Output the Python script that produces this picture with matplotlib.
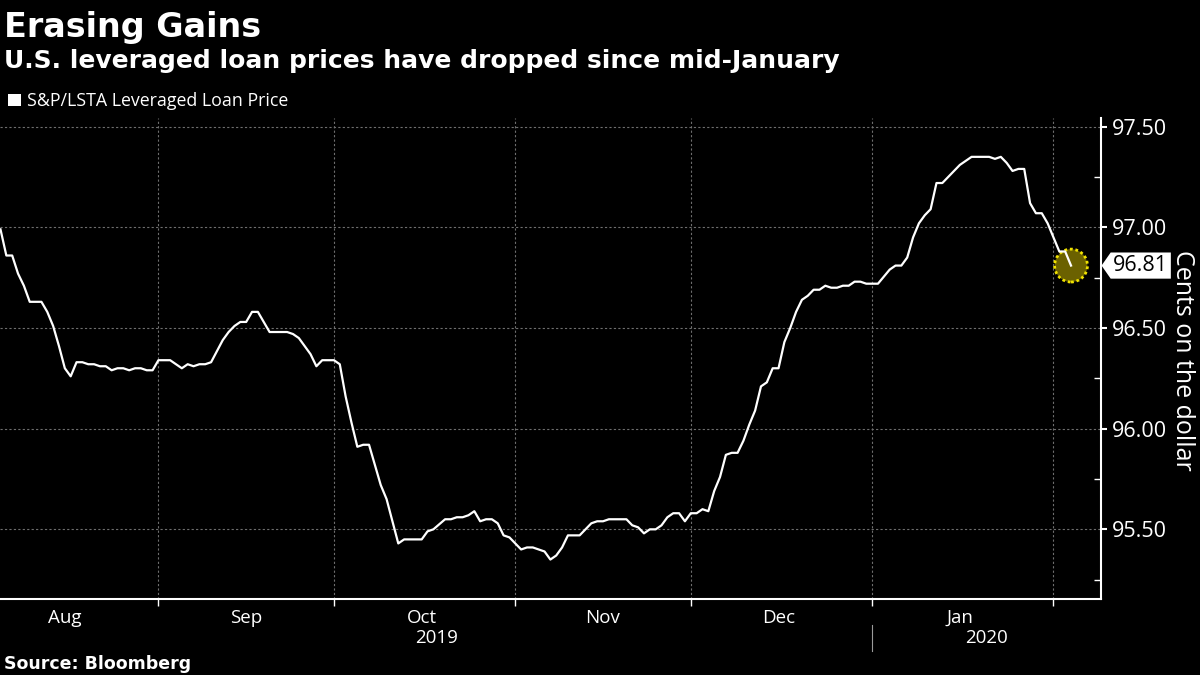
import matplotlib
matplotlib.use("Agg")
import matplotlib.pyplot as plt
import matplotlib.dates as mdates
import matplotlib.transforms as mtransforms
from matplotlib.patches import Patch
from matplotlib.path import Path
from matplotlib.ticker import MultipleLocator, FormatStrFormatter, NullFormatter
import pandas as pd

plt.rcParams["font.family"] = ["Open Sans", "DejaVu Sans"]

# S&P/LSTA leveraged loan price (cents on the dollar)
dates = [
    "2019-08-05", "2019-08-06", "2019-08-07", "2019-08-08", "2019-08-09", "2019-08-10",
    "2019-08-12", "2019-08-13", "2019-08-14", "2019-08-15", "2019-08-16", "2019-08-17",
    "2019-08-18", "2019-08-19", "2019-08-20", "2019-08-21", "2019-08-22", "2019-08-23",
    "2019-08-24", "2019-08-25", "2019-08-26", "2019-08-27", "2019-08-28", "2019-08-29",
    "2019-08-30", "2019-08-31", "2019-09-01", "2019-09-03", "2019-09-04", "2019-09-05",
    "2019-09-06", "2019-09-07", "2019-09-08", "2019-09-09", "2019-09-10", "2019-09-12",
    "2019-09-13", "2019-09-14", "2019-09-15", "2019-09-16", "2019-09-17", "2019-09-18",
    "2019-09-19", "2019-09-20", "2019-09-23", "2019-09-24", "2019-09-25", "2019-09-26",
    "2019-09-27", "2019-09-28", "2019-09-29", "2019-10-01", "2019-10-02", "2019-10-03",
    "2019-10-04", "2019-10-05", "2019-10-06", "2019-10-07", "2019-10-08", "2019-10-09",
    "2019-10-10", "2019-10-11", "2019-10-12", "2019-10-13", "2019-10-16", "2019-10-17",
    "2019-10-18", "2019-10-20", "2019-10-21", "2019-10-22", "2019-10-23", "2019-10-24",
    "2019-10-25", "2019-10-26", "2019-10-27", "2019-10-28", "2019-10-29", "2019-10-30",
    "2019-10-31", "2019-11-01", "2019-11-02", "2019-11-03", "2019-11-04", "2019-11-05",
    "2019-11-06", "2019-11-07", "2019-11-08", "2019-11-09", "2019-11-10", "2019-11-12",
    "2019-11-13", "2019-11-14", "2019-11-15", "2019-11-16", "2019-11-17", "2019-11-20",
    "2019-11-21", "2019-11-22", "2019-11-23", "2019-11-24", "2019-11-25", "2019-11-26",
    "2019-11-27", "2019-11-28", "2019-11-29", "2019-11-30", "2019-12-01", "2019-12-02",
    "2019-12-03", "2019-12-04", "2019-12-05", "2019-12-06", "2019-12-07", "2019-12-08",
    "2019-12-09", "2019-12-10", "2019-12-11", "2019-12-12", "2019-12-13", "2019-12-14",
    "2019-12-15", "2019-12-16", "2019-12-17", "2019-12-18", "2019-12-19", "2019-12-20",
    "2019-12-21", "2019-12-22", "2019-12-23", "2019-12-24", "2019-12-25", "2019-12-26",
    "2019-12-27", "2019-12-28", "2019-12-29", "2019-12-30", "2019-12-31", "2020-01-02",
    "2020-01-03", "2020-01-04", "2020-01-05", "2020-01-06", "2020-01-07", "2020-01-08",
    "2020-01-09", "2020-01-10", "2020-01-11", "2020-01-12", "2020-01-13", "2020-01-14",
    "2020-01-15", "2020-01-16", "2020-01-17", "2020-01-18", "2020-01-21", "2020-01-22",
    "2020-01-23", "2020-01-24", "2020-01-25", "2020-01-26", "2020-01-27", "2020-01-28",
    "2020-01-29", "2020-01-30", "2020-01-31", "2020-02-01", "2020-02-02", "2020-02-03",
    "2020-02-04",
]
prices = [
    96.99, 96.86, 96.86, 96.77, 96.71, 96.63,
    96.63, 96.58, 96.51, 96.41, 96.30, 96.26,
    96.33, 96.33, 96.32, 96.32, 96.31, 96.31,
    96.29, 96.30, 96.30, 96.29, 96.30, 96.30,
    96.29, 96.29, 96.34, 96.34, 96.32, 96.30,
    96.32, 96.31, 96.32, 96.32, 96.33, 96.44,
    96.48, 96.51, 96.53, 96.53, 96.58, 96.58,
    96.53, 96.48, 96.48, 96.47, 96.45, 96.41,
    96.37, 96.31, 96.34, 96.34, 96.32, 96.16,
    96.03, 95.91, 95.92, 95.92, 95.82, 95.72,
    95.65, 95.54, 95.43, 95.45, 95.45, 95.49,
    95.50, 95.55, 95.55, 95.56, 95.56, 95.57,
    95.59, 95.54, 95.55, 95.55, 95.53, 95.47,
    95.46, 95.43, 95.40, 95.41, 95.41, 95.40,
    95.39, 95.35, 95.37, 95.41, 95.47, 95.47,
    95.50, 95.53, 95.54, 95.54, 95.55, 95.55,
    95.52, 95.51, 95.48, 95.50, 95.50, 95.52,
    95.56, 95.58, 95.58, 95.54, 95.58, 95.58,
    95.60, 95.59, 95.69, 95.76, 95.87, 95.88,
    95.88, 95.94, 96.02, 96.09, 96.21, 96.23,
    96.30, 96.30, 96.43, 96.50, 96.58, 96.64,
    96.66, 96.69, 96.69, 96.71, 96.70, 96.70,
    96.71, 96.71, 96.73, 96.73, 96.72, 96.72,
    96.755, 96.79, 96.81, 96.81, 96.85, 96.95,
    97.02, 97.06, 97.09, 97.22, 97.22, 97.25,
    97.28, 97.31, 97.33, 97.35, 97.35, 97.34,
    97.35, 97.32, 97.28, 97.29, 97.29, 97.12,
    97.07, 97.07, 97.02, 96.95, 96.88, 96.88,
    96.81,
]
y_ticks = [95.50, 96.00, 96.50, 97.00, 97.50]
year_labels = ["2019", "2020"]

x = pd.to_datetime(dates)
last_x, last_y = x[-1], prices[-1]
x_start = pd.Timestamp("2019-08-04 22:00")
x_end = pd.Timestamp("2020-02-09 02:00")
year_break = pd.Timestamp("2020-01-01")

fig = plt.figure(figsize=(12, 6.75), dpi=100, facecolor="black")
ax = fig.add_axes([0, 0.1126, 0.9173, 0.7126], facecolor="black")

ax.plot(x, prices, color="white", lw=1.6, zorder=3, solid_joinstyle="round")
ax.scatter([last_x], [last_y], s=560, facecolor="#6b6100", edgecolor="#f0e200",
           linestyle=(0, (1, 1)), linewidth=2, zorder=2, clip_on=False)

ax.set_xlim(x_start, x_end)
ax.set_ylim(95.154, 97.543)

# y axis on the right
ax.yaxis.tick_right()
ax.set_yticks(y_ticks)
ax.yaxis.set_minor_locator(MultipleLocator(0.25))
ax.yaxis.set_major_formatter(FormatStrFormatter("%.2f"))
ax.tick_params(axis="y", which="major", direction="out", length=4, width=1.5,
               colors="white", labelsize=15.5, pad=4)
ax.tick_params(axis="y", which="minor", direction="in", length=5, width=1, color="white")

# x axis: ticks at month starts, labels mid-month
ax.xaxis.set_major_locator(mdates.MonthLocator())
ax.xaxis.set_major_formatter(NullFormatter())
ax.xaxis.set_minor_locator(mdates.MonthLocator(bymonthday=16))
ax.xaxis.set_minor_formatter(mdates.DateFormatter("%b"))
ax.tick_params(axis="x", which="major", direction="out", length=5, width=1, color="white")
ax.tick_params(axis="x", which="minor", length=0, labelsize=13.5, labelcolor="white", pad=7)

ax.grid(True, which="major", axis="both", color="#6e6e6e", linestyle=(0, (2, 2)), lw=0.8)
ax.set_axisbelow(True)

for side in ["top", "left"]:
    ax.spines[side].set_visible(False)
for side in ["right", "bottom"]:
    ax.spines[side].set_color("white")
    ax.spines[side].set_linewidth(1.5)

# year labels under the months
trans = mtransforms.blended_transform_factory(ax.transData, ax.transAxes)
ax.text(x_start + (year_break - x_start) / 2, -0.081, year_labels[0], transform=trans,
        ha="center", va="center", color="white", fontsize=13.5)
ax.text(year_break + (x_end - year_break) / 2, -0.081, year_labels[1], transform=trans,
        ha="center", va="center", color="white", fontsize=13.5)
ax.plot([year_break, year_break], [-0.054, -0.108], transform=trans, color="#9a9a9a",
        lw=0.8, clip_on=False)


# white tag with a pointed left side for the last value
def tag_box(x0, y0, width, height, mutation_size):
    pad = mutation_size * 0.12
    x0, y0 = x0 - pad, y0 - pad
    x1, y1 = x0 + width + 2 * pad, y0 + height + 2 * pad
    tip = (y1 - y0) * 0.35
    return Path([(x0, y0), (x1, y0), (x1, y1), (x0, y1), (x0 - tip, (y0 + y1) / 2), (x0, y0)],
                closed=True)


ax.annotate(f"{last_y:.2f}", xy=(1, last_y), xycoords=("axes fraction", "data"),
            xytext=(9, 0), textcoords="offset points", ha="left", va="center",
            color="black", fontsize=15.5, annotation_clip=False,
            bbox=dict(boxstyle=tag_box, fc="white", ec="none"))

fig.text(1182 / 1200, 1 - 360 / 675, "Cents on the dollar", rotation=-90, ha="center",
         va="center", color="white", fontsize=18)

fig.text(0.003, 0.9457, "Erasing Gains", color="white", fontsize=24, fontweight="bold",
         family="DejaVu Sans", va="baseline")
fig.text(0.003, 0.8988, "U.S. leveraged loan prices have dropped since mid-January",
         color="white", fontsize=18, fontweight="bold", family="DejaVu Sans", va="baseline")
fig.legend(handles=[Patch(facecolor="white", label="S&P/LSTA Leveraged Loan Price")],
           loc="center left", bbox_to_anchor=(0.007, 0.850), frameon=False,
           handlelength=0.7, handleheight=0.7, handletextpad=0.35, borderaxespad=0,
           borderpad=0, fontsize=12.8, labelcolor="white")
fig.text(0.003, 1 - 664 / 675, "Source: Bloomberg", color="white", fontsize=12.5,
         fontweight="bold", family="DejaVu Sans", va="center")

fig.savefig("out.png", dpi=100, facecolor="black")
